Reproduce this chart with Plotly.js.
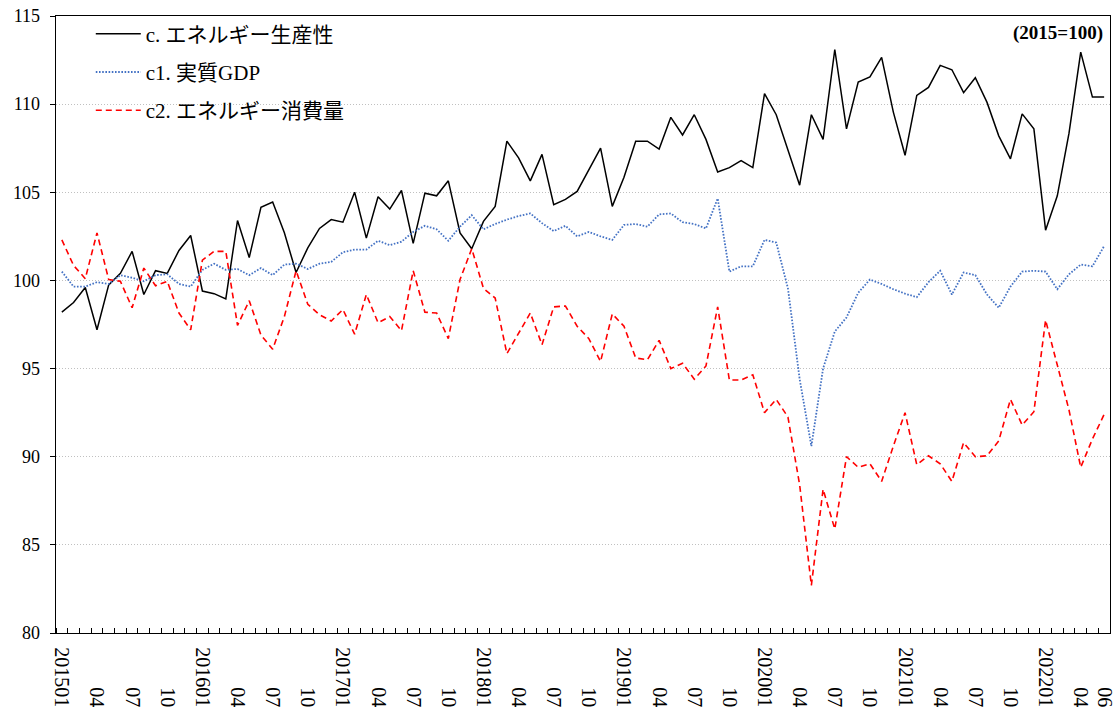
<!DOCTYPE html>
<html>
<head>
<meta charset="utf-8">
<script src="https://cdn.plot.ly/plotly-3.0.1.min.js"></script>
<style>html,body{margin:0;padding:0;background:#fff;}#chart{width:1118px;height:713px;}</style>
</head>
<body>
<div id="chart"></div>
<script>
// Monthly data 2015-01 .. 2022-06 (2015=100)
const seriesNames = ['c. エネルギー生産性', 'c1. 実質GDP', 'c2. エネルギー消費量'];

const energyProductivity = [
  98.2, 98.75, 99.6, 97.2, 99.75, 100.4, 101.65, 99.2, 100.55, 100.4, 101.7, 102.55,
  99.4, 99.25, 98.95, 103.4, 101.3, 104.15, 104.45, 102.7, 100.45, 101.85, 102.95, 103.45,
  103.3, 105.0, 102.4, 104.75, 104.05, 105.1, 102.1, 104.95, 104.8, 105.65, 102.7, 101.8,
  103.35, 104.2, 107.9, 106.95, 105.65, 107.15, 104.3, 104.6, 105.05, 106.3, 107.5, 104.2,
  105.85, 107.9, 107.9, 107.45, 109.25, 108.25, 109.4, 108.0, 106.15, 106.4, 106.8, 106.4,
  110.6, 109.4, 107.4, 105.4, 109.4, 108.0, 113.1, 108.6, 111.25, 111.55, 112.65, 109.55,
  107.1, 110.5, 110.95, 112.2, 111.95, 110.65, 111.5, 110.1, 108.2, 106.9, 109.45, 108.6,
  102.85, 104.8, 108.35, 112.95, 110.4, 110.4
];

const realGDP = [
  100.5, 99.65, 99.65, 99.9, 99.8, 100.3, 100.15, 99.95, 100.3, 100.35, 99.8, 99.65,
  100.6, 100.95, 100.6, 100.65, 100.3, 100.7, 100.3, 100.9, 100.95, 100.65, 100.95, 101.05,
  101.6, 101.75, 101.75, 102.25, 102.0, 102.2, 102.75, 103.1, 102.9, 102.25, 103.05, 103.7,
  102.9, 103.2, 103.45, 103.65, 103.8, 103.25, 102.8, 103.1, 102.5, 102.75, 102.5, 102.3,
  103.15, 103.2, 103.05, 103.75, 103.8, 103.3, 103.2, 102.95, 104.65, 100.5, 100.8, 100.8,
  102.3, 102.15, 99.55, 94.4, 90.6, 95.0, 97.1, 97.9, 99.3, 100.05, 99.8, 99.5,
  99.25, 99.05, 99.9, 100.55, 99.2, 100.45, 100.3, 99.2, 98.45, 99.65, 100.5, 100.55,
  100.5, 99.5, 100.35, 100.9, 100.8, 101.95
];

const energyConsumption = [
  102.3, 100.85, 100.1, 102.7, 100.05, 99.95, 98.45, 100.7, 99.7, 99.95, 98.15, 97.2,
  101.15, 101.65, 101.65, 97.45, 98.85, 96.9, 96.1, 97.95, 100.55, 98.65, 98.05, 97.7,
  98.35, 96.95, 99.2, 97.6, 97.95, 97.15, 100.55, 98.2, 98.15, 96.7, 100.05, 101.8,
  99.55, 99.0, 95.85, 97.0, 98.15, 96.35, 98.5, 98.55, 97.4, 96.7, 95.4, 98.1,
  97.4, 95.6, 95.5, 96.6, 95.0, 95.3, 94.4, 95.15, 98.5, 94.35, 94.35, 94.65,
  92.5, 93.25, 92.25, 88.4, 82.7, 88.15, 85.9, 90.0, 89.4, 89.6, 88.6, 90.6,
  92.5, 89.55, 90.05, 89.6, 88.6, 90.8, 90.0, 90.05, 90.9, 93.25, 91.8, 92.55,
  97.75, 95.2, 92.65, 89.4, 91.0, 92.4
];

// x-axis tick labels (every third month, plus the last month)
const tickLabels = [
  '201501','04','07','10','201601','04','07','10','201701','04','07','10',
  '201801','04','07','10','201901','04','07','10','202001','04','07','10',
  '202101','04','07','10','202201','04','06'
];
const tickMonthIndex = [
  0,3,6,9,12,15,18,21,24,27,30,33,36,39,42,45,48,51,54,57,60,63,66,69,72,75,78,81,84,87,89
];
const yTicks = [80, 85, 90, 95, 100, 105, 110, 115];

const nMonths = energyProductivity.length;
const xIdx = energyProductivity.map((_, i) => i);

// pad short labels so rotated labels end at the same line (bottom-aligned)
const NBSP = '\u00A0';
const paddedLabels = tickLabels.map(s => NBSP.repeat((6 - s.length) * 2) + s);

const FONT = '"Liberation Serif", "Times New Roman", "Noto Sans CJK JP", serif';

const traces = [
  {x: xIdx, y: energyProductivity, name: seriesNames[0], type: 'scatter', mode: 'lines',
   line: {color: '#000000', width: 1.5}, legendgroup: 'a'},
  {x: xIdx, y: realGDP, name: seriesNames[1], type: 'scatter', mode: 'lines',
   line: {color: '#4472C4', width: 1.8, dash: '1.6px,1.6px'}, legendgroup: 'b'},
  {x: xIdx, y: energyConsumption, name: seriesNames[2], type: 'scatter', mode: 'lines',
   line: {color: '#FF0000', width: 1.6, dash: '6px,4px'}, legendgroup: 'c'}
];

const layout = {
  width: 1118, height: 713,
  margin: {l: 56, r: 8, t: 16, b: 80, pad: 0},
  paper_bgcolor: '#ffffff', plot_bgcolor: '#ffffff',
  font: {family: FONT, size: 18, color: '#000000'},
  showlegend: true,
  legend: {x: 0.033, y: 1.004, xanchor: 'left', yanchor: 'top',
           bgcolor: 'rgba(0,0,0,0)', borderwidth: 0, itemwidth: 45,
           traceorder: 'grouped', tracegroupgap: 8,
           font: {family: FONT, size: 21, color: '#000'}},
  xaxis: {
    range: [-0.5, nMonths - 0.5], fixedrange: true,
    tickmode: 'array', tickvals: tickMonthIndex, ticktext: paddedLabels,
    tickangle: 90, ticks: '', ticklabelstandoff: 9,
    tickfont: {family: FONT, size: 20, color: '#000'},
    showgrid: false, zeroline: false,
    showline: true, mirror: true, linecolor: '#000', linewidth: 1.3,
    minor: {tickmode: 'linear', tick0: -0.5, dtick: 1, ticks: 'inside', ticklen: 5,
            tickcolor: '#000', tickwidth: 1, showgrid: false}
  },
  yaxis: {
    range: [80, 115], fixedrange: true,
    tickmode: 'array', tickvals: yTicks, ticktext: yTicks.map(String),
    ticks: 'outside', ticklen: 5, tickcolor: '#000', tickwidth: 1,
    ticklabelstandoff: 6,
    tickfont: {family: FONT, size: 18, color: '#000'},
    showgrid: true, gridcolor: '#c0c0c0', griddash: '1px,2px', gridwidth: 1,
    zeroline: false,
    showline: true, mirror: true, linecolor: '#000', linewidth: 1.3
  },
  annotations: [{
    text: '<b>(2015=100)</b>', xref: 'paper', yref: 'paper', x: 1, y: 1,
    xanchor: 'right', yanchor: 'top', xshift: -5, yshift: -4, showarrow: false,
    font: {family: FONT, size: 19, color: '#000'}
  }]
};

Plotly.newPlot('chart', traces, layout, {displayModeBar: false, staticPlot: true});
</script>
</body>
</html>
